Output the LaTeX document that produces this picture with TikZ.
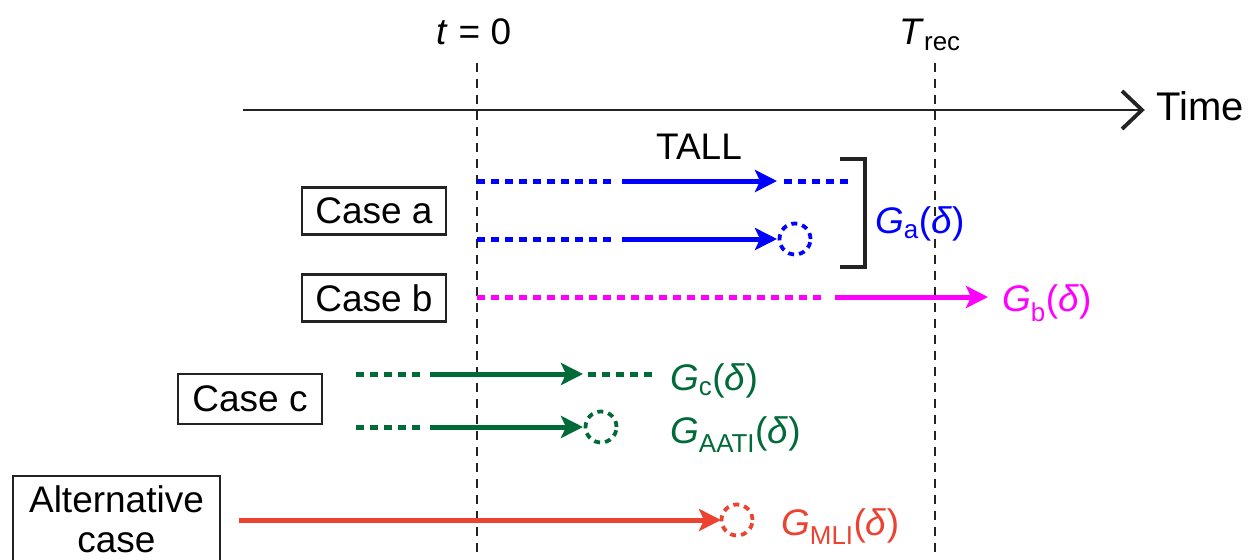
\documentclass[tikz,border=0pt]{standalone}
\usepackage{fontspec}
\setmainfont{Liberation Sans}
\usetikzlibrary{arrows.meta}
\definecolor{cblue}{RGB}{0,0,255}
\definecolor{cmag}{RGB}{255,0,255}
\definecolor{cgreen}{RGB}{0,106,56}
\definecolor{cred}{RGB}{236,66,50}
\definecolor{cgray}{RGB}{35,35,35}
\begin{document}
\begin{tikzpicture}[x=1pt,y=-1pt,
  every node/.style={font=\fontsize{37}{42}\selectfont, inner sep=0pt},
  casebox/.style={draw=cgray, line width=2.4pt, minimum width=144pt, minimum height=47pt, inner sep=0pt},
  guide/.style={cgray, line width=1.7pt, dash pattern=on 9pt off 7pt},
  dots/.style={line width=5pt, dash pattern=on 8pt off 6pt},
  solidarr/.style={line width=5pt, -{Stealth[length=22pt,width=22pt,inset=5pt]}},
  ring/.style={circle, draw, line width=3.8pt, dash pattern=on 6pt off 5pt, minimum size=31pt},
  lbl/.style={anchor=base west},
]
\useasboundingbox (0,0) rectangle (1257,559);
\clip (0,0) rectangle (1257,559);

% guide lines
\coordinate (g0t) at (477,63);
\coordinate (g0b) at (477,559);
\coordinate (grt) at (935,63);
\coordinate (grb) at (935,559);
\draw[guide] (g0t) -- (g0b);
\draw[guide] (grt) -- (grb);
\node[anchor=base] (t0) at (474,45) {\textit{t} = 0};
\node[anchor=base] (trec) at (930,45) {\textit{T}\textsubscript{rec}};

% time axis
\coordinate (axs) at (243,110);
\coordinate (axe) at (1142,110);
\coordinate (chu) at (1122,91);
\coordinate (chd) at (1122,129);
\draw[cgray, line width=2.2pt] (axs) -- (axe);
\draw[cgray, line width=3.8pt, miter limit=4] (chu) -- (axe) -- (chd);
\node[anchor=base west, font=\fontsize{40}{44}\selectfont] (time) at (1156,121) {Time};

% case a
\node[casebox] (casea) at (374,211) {Case a};
\node[anchor=base] (tall) at (699,159) {TALL};
\coordinate (a1s) at (477,181);
\coordinate (a1d) at (611,181);
\coordinate (a1m) at (622,181);
\coordinate (a1t) at (777,181);
\coordinate (a1r) at (784,181);
\coordinate (a1e) at (848,181);
\draw[cblue, dots] (a1s) -- (a1d);
\draw[cblue, solidarr] (a1m) -- (a1t);
\draw[cblue, dots] (a1r) -- (a1e);
\coordinate (a2s) at (477,239);
\coordinate (a2d) at (611,239);
\coordinate (a2m) at (622,239);
\coordinate (a2t) at (777,239);
\draw[cblue, dots] (a2s) -- (a2d);
\draw[cblue, solidarr] (a2m) -- (a2t);
\node[ring, draw=cblue] (ra) at (795,239) {};
\coordinate (bk1) at (840,159);
\coordinate (bk2) at (865,159);
\coordinate (bk3) at (865,267);
\coordinate (bk4) at (840,267);
\draw[cgray, line width=4.2pt] (bk1) -- (bk2) -- (bk3) -- (bk4);
\node[lbl, text=cblue] (ga) at (875,233) {\textit{G}\textsubscript{a}(\textit{δ})};

% case b
\node[casebox] (caseb) at (374,298) {Case b};
\coordinate (bs) at (477,297);
\coordinate (bd) at (825,297);
\coordinate (bm) at (835,297);
\coordinate (bt) at (988,297);
\draw[cmag, dots] (bs) -- (bd);
\draw[cmag, solidarr] (bm) -- (bt);
\node[lbl, text=cmag] (gb) at (1002,311) {\textit{G}\textsubscript{b}(\textit{δ})};

% case c
\node[casebox, minimum height=50pt] (casec) at (250,399) {Case c};
\coordinate (c1s) at (356,374);
\coordinate (c1d) at (420,374);
\coordinate (c1m) at (430,374);
\coordinate (c1t) at (583,374);
\coordinate (c1r) at (588,374);
\coordinate (c1e) at (652,374);
\draw[cgreen, dots] (c1s) -- (c1d);
\draw[cgreen, solidarr] (c1m) -- (c1t);
\draw[cgreen, dots] (c1r) -- (c1e);
\node[lbl, text=cgreen] (gc) at (670,390) {\textit{G}\textsubscript{c}(\textit{δ})};
\coordinate (c2s) at (356,427);
\coordinate (c2d) at (420,427);
\coordinate (c2m) at (430,427);
\coordinate (c2t) at (583,427);
\draw[cgreen, dots] (c2s) -- (c2d);
\draw[cgreen, solidarr] (c2m) -- (c2t);
\node[ring, draw=cgreen] (rc) at (601,427) {};
\node[lbl, text=cgreen] (gaati) at (670,443) {\textit{G}\textsubscript{AATI}(\textit{δ})};

% alternative case
\node[draw=cgray, line width=2.4pt, align=center, anchor=north, minimum width=207pt,
      font=\fontsize{37}{40}\selectfont,
      inner xsep=0pt, inner ysep=9pt] (alt) at (116.5,475) {Alternative\\case};
\coordinate (ms) at (239,520);
\coordinate (mt) at (721,520);
\draw[cred, solidarr] (ms) -- (mt);
\node[ring, draw=cred] (rm) at (737,520) {};
\node[lbl, text=cred] (gmli) at (781,535) {\textit{G}\textsubscript{MLI}(\textit{δ})};
\end{tikzpicture}
\end{document}
